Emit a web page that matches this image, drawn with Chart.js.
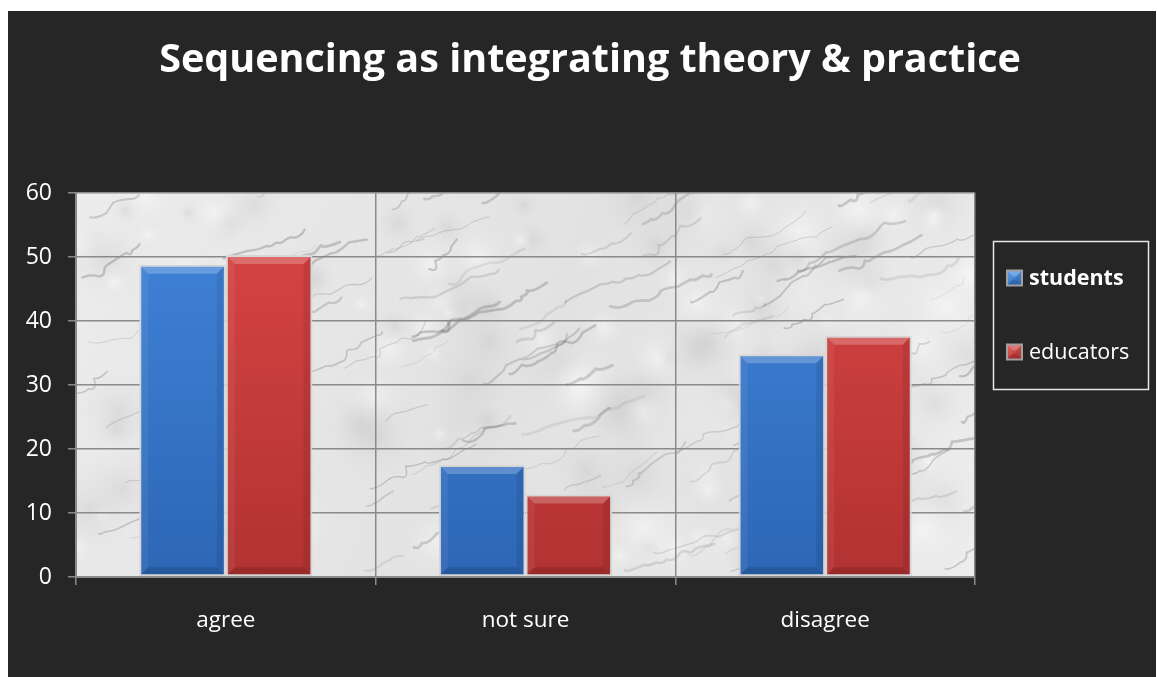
<!DOCTYPE html>
<html>
<head>
<meta charset="utf-8">
<script src="https://cdn.jsdelivr.net/npm/chart.js@4"></script>
<style>
  html, body { margin: 0; padding: 0; background: #ffffff; }
  .frame { position: absolute; left: 8px; top: 11px; width: 1148px; height: 666px; background: #262626; }
  canvas { display: block; }
</style>
</head>
<body>
<div class="frame"><canvas id="chart" width="1148" height="666"></canvas></div>
<script>
// Chart data
const categories = ['agree', 'not sure', 'disagree'];
const students = [48.8, 17.5, 34.8];
const educators = [50.3, 12.9, 37.7];
const yTicks = [0, 10, 20, 30, 40, 50, 60];
const chartTitle = 'Sequencing as integrating theory & practice';

const FONT = '"Open Sans", "Liberation Sans", sans-serif';

// small seeded generator, only for the marble texture
let seed = 7;
function rnd() {
    seed = (seed * 16807) % 2147483647;
    return (seed - 1) / 2147483646;
}

const marble = {
    id: 'marble',
    beforeDraw(chart) {
        const { ctx, chartArea: a } = chart;
        ctx.save();
        ctx.beginPath();
        ctx.rect(a.left, a.top, a.right - a.left, a.bottom - a.top);
        ctx.clip();
        const g = ctx.createLinearGradient(a.left, a.top, a.right, a.bottom);
        g.addColorStop(0, '#ececec');
        g.addColorStop(0.5, '#e2e2e2');
        g.addColorStop(1, '#ededed');
        ctx.fillStyle = g;
        ctx.fillRect(a.left, a.top, a.right - a.left, a.bottom - a.top);
        seed = 7;
        // soft blotches
        for (let i = 0; i < 160; i++) {
            const x = a.left + rnd() * (a.right - a.left);
            const y = a.top + rnd() * (a.bottom - a.top);
            const r = 12 + rnd() * 45;
            const shade = rnd() < 0.55 ? 'rgba(255,255,255,0.45)' : 'rgba(140,140,140,0.14)';
            const rg = ctx.createRadialGradient(x, y, 0, x, y, r);
            rg.addColorStop(0, shade);
            rg.addColorStop(1, 'rgba(220,220,220,0)');
            ctx.fillStyle = rg;
            ctx.fillRect(x - r, y - r, r * 2, r * 2);
        }
        // veins
        ctx.lineCap = 'round';
        ctx.lineJoin = 'round';
        for (let i = 0; i < 110; i++) {
            let x = a.left + rnd() * (a.right - a.left);
            let y = a.top + rnd() * (a.bottom - a.top);
            ctx.beginPath();
            ctx.moveTo(x, y);
            const n = 3 + Math.floor(rnd() * 5);
            for (let k = 0; k < n; k++) {
                const nx = x + 5 + rnd() * 16;
                const ny = y - 1 - rnd() * 10;
                ctx.quadraticCurveTo(x + rnd() * 10, y + (rnd() - 0.5) * 8, nx, ny);
                x = nx; y = ny;
            }
            ctx.strokeStyle = 'rgba(100,100,100,' + (0.1 + rnd() * 0.22) + ')';
            ctx.lineWidth = 0.8 + rnd() * 2.2;
            ctx.stroke();
        }
        ctx.restore();
    }
};

// bevel look on the bars
function bevel(ctx, left, top, right, bottom, b) {
    ctx.fillStyle = 'rgba(255,255,255,0.22)';
    ctx.beginPath();
    ctx.moveTo(left, top); ctx.lineTo(right, top);
    ctx.lineTo(right - b, top + b); ctx.lineTo(left + b, top + b);
    ctx.closePath(); ctx.fill();
    ctx.fillStyle = 'rgba(255,255,255,0.06)';
    ctx.beginPath();
    ctx.moveTo(left, top); ctx.lineTo(left + b, top + b);
    ctx.lineTo(left + b, bottom - b); ctx.lineTo(left, bottom);
    ctx.closePath(); ctx.fill();
    ctx.fillStyle = 'rgba(0,0,0,0.08)';
    ctx.beginPath();
    ctx.moveTo(right, top); ctx.lineTo(right - b, top + b);
    ctx.lineTo(right - b, bottom - b); ctx.lineTo(right, bottom);
    ctx.closePath(); ctx.fill();
    ctx.fillStyle = 'rgba(0,0,0,0.14)';
    ctx.beginPath();
    ctx.moveTo(left, bottom); ctx.lineTo(left + b, bottom - b);
    ctx.lineTo(right - b, bottom - b); ctx.lineTo(right, bottom);
    ctx.closePath(); ctx.fill();
}

const barBevel = {
    id: 'barBevel',
    afterDatasetsDraw(chart) {
        const ctx = chart.ctx;
        ctx.save();
        chart.data.datasets.forEach((ds, i) => {
            chart.getDatasetMeta(i).data.forEach(bar => {
                const w = bar.width;
                bevel(ctx, bar.x - w / 2 + 2, bar.y + 2, bar.x + w / 2 - 2, bar.base - 2, 7);
            });
        });
        ctx.restore();
    }
};

// title drawn centred on the whole picture
const topTitle = {
    id: 'topTitle',
    afterDraw(chart) {
        const ctx = chart.ctx;
        ctx.save();
        ctx.fillStyle = '#ffffff';
        ctx.font = 'bold 39.5px ' + FONT;
        ctx.textAlign = 'center';
        ctx.textBaseline = 'middle';
        ctx.fillText(chartTitle, 582, 50);
        ctx.restore();
    }
};

// legend box on the right
const boxLegend = {
    id: 'boxLegend',
    afterDraw(chart) {
        const ctx = chart.ctx;
        ctx.save();
        ctx.strokeStyle = '#e8e8e8';
        ctx.lineWidth = 1.5;
        ctx.strokeRect(985.5, 230.5, 155, 148);
        const items = [
            { label: 'students', top: '#5a9ae6', bottom: '#2f6bbf', y: 267, weight: 'bold' },
            { label: 'educators', top: '#e25a5a', bottom: '#b33030', y: 341, weight: 'normal' }
        ];
        items.forEach(it => {
            const x0 = 998, s = 17, y0 = it.y - s / 2;
            ctx.fillStyle = '#a0a0a0';
            ctx.fillRect(x0, y0, s, s);
            const g = ctx.createLinearGradient(0, y0, 0, y0 + s);
            g.addColorStop(0, it.top);
            g.addColorStop(1, it.bottom);
            ctx.fillStyle = g;
            ctx.fillRect(x0 + 2, y0 + 2, s - 4, s - 4);
            bevel(ctx, x0 + 2, y0 + 2, x0 + s - 2, y0 + s - 2, 5);
            ctx.fillStyle = '#ffffff';
            ctx.font = it.weight + ' 21.5px ' + FONT;
            ctx.textBaseline = 'middle';
            ctx.fillText(it.label, 1021, it.y + 1);
        });
        ctx.restore();
    }
};

function barFill(topColor, bottomColor) {
    return function(context) {
        const area = context.chart.chartArea;
        if (!area) return bottomColor;
        const g = context.chart.ctx.createLinearGradient(0, area.top, 0, area.bottom);
        g.addColorStop(0, topColor);
        g.addColorStop(1, bottomColor);
        return g;
    };
}

const ctx = document.getElementById('chart').getContext('2d');
new Chart(ctx, {
    type: 'bar',
    data: {
        labels: categories,
        datasets: [{
            label: 'students',
            data: students,
            backgroundColor: barFill('#4286dc', '#2d66b5'),
            borderColor: '#d6d6d6',
            borderWidth: 2,
            borderSkipped: false
        }, {
            label: 'educators',
            data: educators,
            backgroundColor: barFill('#db4646', '#b23232'),
            borderColor: '#d6d6d6',
            borderWidth: 2,
            borderSkipped: false
        }]
    },
    options: {
        responsive: false,
        animation: false,
        layout: { padding: { left: 0, right: 181, top: 182, bottom: 0 } },
        datasets: {
            bar: { barPercentage: 1.0, categoryPercentage: 0.578 }
        },
        plugins: {
            legend: { display: false },
            tooltip: { enabled: false },
            title: { display: false }
        },
        scales: {
            x: {
                afterFit(scale) { scale.height = 100; },
                grid: { offset: true, color: '#8a8a8a', lineWidth: 1.5, tickLength: 8 },
                border: { color: '#8a8a8a', width: 2 },
                ticks: { color: '#ffffff', font: { family: FONT, size: 22.5 }, padding: 22 }
            },
            y: {
                min: 0,
                max: 60,
                afterFit(scale) { scale.width = 68; },
                afterBuildTicks(scale) { scale.ticks = yTicks.map(v => ({ value: v })); },
                grid: { color: '#8a8a8a', lineWidth: 1.5, tickLength: 8 },
                border: { color: '#8a8a8a', width: 2 },
                ticks: { color: '#ffffff', font: { family: FONT, size: 23 }, padding: 16 }
            }
        }
    },
    plugins: [marble, barBevel, topTitle, boxLegend]
});
</script>
</body>
</html>
